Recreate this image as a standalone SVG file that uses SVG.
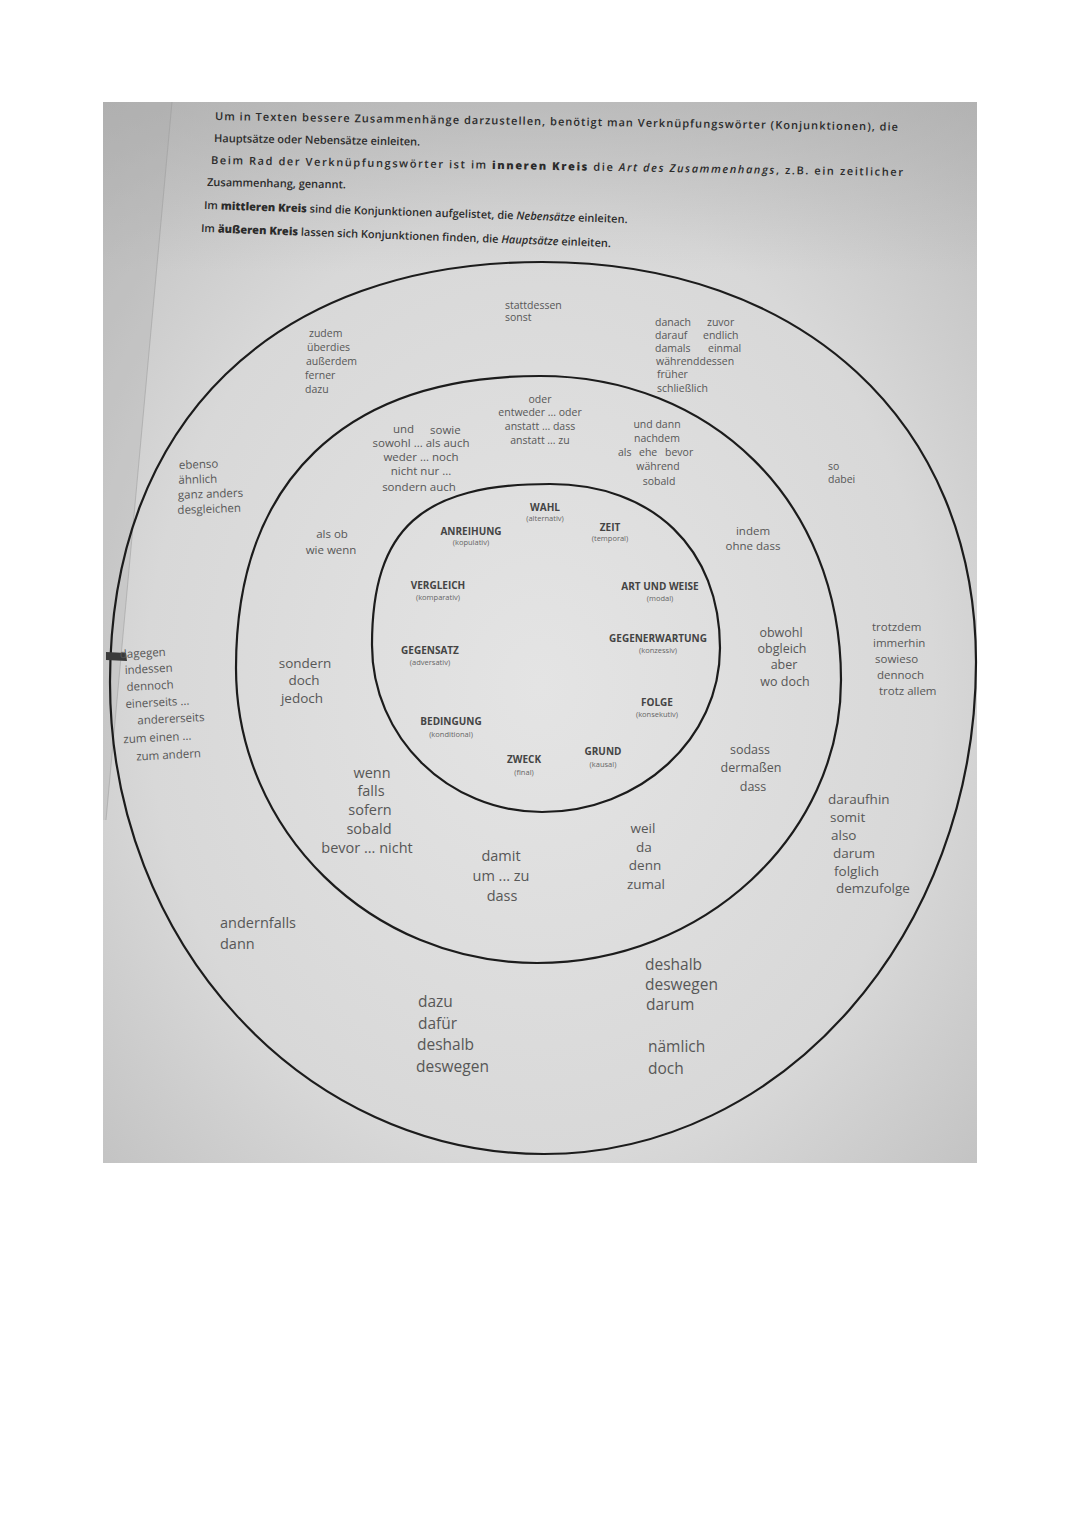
<svg xmlns="http://www.w3.org/2000/svg" width="1080" height="1527" viewBox="0 0 1080 1527">
<defs>
<radialGradient id="page" cx="0.5" cy="0.55" r="0.75">
<stop offset="0" stop-color="#e4e4e4"/>
<stop offset="0.6" stop-color="#d8d8d8"/>
<stop offset="1" stop-color="#bcbcbc"/>
</radialGradient>
<linearGradient id="topshade" x1="0" y1="0" x2="0" y2="1">
<stop offset="0" stop-color="#a8a8a8" stop-opacity="0.5"/>
<stop offset="1" stop-color="#a8a8a8" stop-opacity="0"/>
</linearGradient>
</defs>
<style>
.ring{fill:none;stroke:#1c1c1c;stroke-width:2.2}
.hd{font-family:"Open Sans","Noto Sans",sans-serif;font-size:11px;font-weight:600;fill:#2b2b2b}
.b{font-weight:800}
.i{font-style:italic}
.w{font-family:"Open Sans","Noto Sans",sans-serif;fill:#575757}
.s11{font-size:10.5px}
.s12{font-size:11.5px}
.s13{font-size:12.5px}
.s14{font-size:13.5px}
.s15{font-size:14.5px}
.s16{font-size:15.5px}
.c{text-anchor:middle}
.lab{font-family:"Open Sans","Noto Sans",sans-serif;font-size:10px;font-weight:700;fill:#444;text-anchor:middle}
.sub{font-family:"Open Sans","Noto Sans",sans-serif;font-size:7.5px;fill:#666;text-anchor:middle}
</style>
<rect x="0" y="0" width="1080" height="1527" fill="#ffffff"/>
<rect x="103" y="102" width="874" height="1061" fill="url(#page)"/>
<rect x="103" y="102" width="874" height="170" fill="url(#topshade)"/>
<g id="page-edge">
<polygon points="103,102 172,102 106,820 103,820" fill="#a9a9a9" opacity="0.28"/>
<line x1="172" y1="102" x2="106" y2="820" stroke="#9a9a9a" stroke-width="1" opacity="0.5"/>
</g>

<g id="header">
<text class="hd" x="215" y="120" transform="rotate(0.9 215 120)" textLength="683" lengthAdjust="spacing">Um in Texten bessere Zusammenhänge darzustellen, benötigt man Verknüpfungswörter (Konjunktionen), die</text>
<text class="hd" x="214" y="142" transform="rotate(1 214 142)">Hauptsätze oder Nebensätze einleiten.</text>
<text class="hd" x="211" y="164" transform="rotate(1 211 164)" textLength="692" lengthAdjust="spacing">Beim Rad der Verknüpfungswörter ist im <tspan class="b">inneren Kreis</tspan> die <tspan class="i">Art des Zusammenhangs</tspan>, z.B. ein zeitlicher</text>
<text class="hd" x="207" y="186" transform="rotate(1 207 186)">Zusammenhang, genannt.</text>
<text class="hd" x="204" y="209" transform="rotate(1.9 204 209)">Im <tspan class="b">mittleren Kreis</tspan> sind die Konjunktionen aufgelistet, die <tspan class="i">Nebensätze</tspan> einleiten.</text>
<text class="hd" x="201" y="232" transform="rotate(2.1 201 232)">Im <tspan class="b">äußeren Kreis</tspan> lassen sich Konjunktionen finden, die <tspan class="i">Hauptsätze</tspan> einleiten.</text>
</g>

<g id="rings">
<path id="outer-ring" class="ring" d="M542 262 C274 262 110 422 110 682 C110 943 304 1154 544 1154 C782 1154 976 934 976 662 C976 422 802 262 542 262 Z"/>
<path id="middle-ring" class="ring" d="M540 376 C345 376 236 481 236 668 C236 831 371 963 537 963 C703 963 841 836 841 680 C841 499 709 376 540 376 Z"/>
<path id="inner-ring" class="ring" d="M550 484 C422 484 372 528 372 645 C372 737 448 812 542 812 C640 812 720 739 720 648 C720 549 653 484 550 484 Z"/>
</g>

<g id="clip-mark">
<path d="M106 652 L126 653 L127 661 L106 660 Z" fill="#3a3a3a"/>
</g>

<g id="inner-labels">
<g id="wahl"><text class="lab" x="545" y="511">WAHL</text><text class="sub" x="545" y="521">(alternativ)</text></g>
<g id="anreihung"><text class="lab" x="471" y="535">ANREIHUNG</text><text class="sub" x="471" y="545">(kopulativ)</text></g>
<g id="zeit"><text class="lab" x="610" y="531">ZEIT</text><text class="sub" x="610" y="541">(temporal)</text></g>
<g id="vergleich"><text class="lab" x="438" y="589">VERGLEICH</text><text class="sub" x="438" y="600">(komparativ)</text></g>
<g id="art-und-weise"><text class="lab" x="660" y="590">ART UND WEISE</text><text class="sub" x="660" y="601">(modal)</text></g>
<g id="gegensatz"><text class="lab" x="430" y="654">GEGENSATZ</text><text class="sub" x="430" y="665">(adversativ)</text></g>
<g id="gegenerwartung"><text class="lab" x="658" y="642">GEGENERWARTUNG</text><text class="sub" x="658" y="653">(konzessiv)</text></g>
<g id="folge"><text class="lab" x="657" y="706">FOLGE</text><text class="sub" x="657" y="717">(konsekutiv)</text></g>
<g id="bedingung"><text class="lab" x="451" y="725">BEDINGUNG</text><text class="sub" x="451" y="737">(konditional)</text></g>
<g id="zweck"><text class="lab" x="524" y="763">ZWECK</text><text class="sub" x="524" y="775">(final)</text></g>
<g id="grund"><text class="lab" x="603" y="755">GRUND</text><text class="sub" x="603" y="767">(kausal)</text></g>
</g>

<g id="middle-words">
<g id="m-wahl" class="w s11 c"><text x="540" y="403">oder</text><text x="540" y="416">entweder ... oder</text><text x="540" y="430">anstatt ... dass</text><text x="540" y="444">anstatt ... zu</text></g>
<g id="m-anreihung" class="w s12"><text x="393" y="433">und</text><text x="430" y="434">sowie</text><text class="c" x="421" y="447">sowohl ... als auch</text><text class="c" x="421" y="461">weder ... noch</text><text class="c" x="421" y="475">nicht nur ...</text><text class="c" x="419" y="491">sondern auch</text></g>
<g id="m-zeit" class="w s11"><text class="c" x="657" y="428">und dann</text><text class="c" x="657" y="442">nachdem</text><text x="618" y="456">als</text><text x="639" y="456">ehe</text><text x="665" y="456">bevor</text><text class="c" x="658" y="470">während</text><text class="c" x="659" y="485">sobald</text></g>
<g id="m-vergleich" class="w s12 c"><text x="332" y="538">als ob</text><text x="331" y="554">wie wenn</text></g>
<g id="m-modal" class="w s12 c"><text x="753" y="535">indem</text><text x="753" y="550">ohne dass</text></g>
<g id="m-gegensatz" class="w s14 c"><text x="305" y="668">sondern</text><text x="304" y="685">doch</text><text x="302" y="703">jedoch</text></g>
<g id="m-konzessiv" class="w s13 c"><text x="781" y="637">obwohl</text><text x="782" y="653">obgleich</text><text x="784" y="669">aber</text><text x="785" y="686">wo doch</text></g>
<g id="m-folge" class="w s13 c"><text x="750" y="754">sodass</text><text x="751" y="772">dermaßen</text><text x="753" y="791">dass</text></g>
<g id="m-bedingung" class="w s15 c"><text x="372" y="778">wenn</text><text x="371" y="796">falls</text><text x="370" y="815">sofern</text><text x="369" y="834">sobald</text><text x="367" y="853">bevor ... nicht</text></g>
<g id="m-zweck" class="w s15 c"><text x="501" y="861">damit</text><text x="501" y="881">um ... zu</text><text x="502" y="901">dass</text></g>
<g id="m-grund" class="w s14 c"><text x="643" y="833">weil</text><text x="644" y="852">da</text><text x="645" y="870">denn</text><text x="646" y="889">zumal</text></g>
</g>

<g id="outer-words">
<g id="o-wahl" class="w s11"><text x="505" y="309">stattdessen</text><text x="505" y="321">sonst</text></g>
<g id="o-anreihung" class="w s11"><text x="309" y="337">zudem</text><text x="307" y="351">überdies</text><text x="306" y="365">außerdem</text><text x="305" y="379">ferner</text><text x="305" y="393">dazu</text></g>
<g id="o-zeit" class="w s11"><text x="655" y="326">danach</text><text x="707" y="326">zuvor</text><text x="655" y="339">darauf</text><text x="703" y="339">endlich</text><text x="655" y="352">damals</text><text x="708" y="352">einmal</text><text x="656" y="365">währenddessen</text><text x="657" y="378">früher</text><text x="657" y="392">schließlich</text></g>
<g id="o-vergleich" class="w s12" transform="rotate(-2 178 468)"><text x="179" y="469">ebenso</text><text x="178" y="484">ähnlich</text><text x="177" y="499">ganz anders</text><text x="176" y="514">desgleichen</text></g>
<g id="o-modal" class="w s11"><text x="828" y="470">so</text><text x="828" y="483">dabei</text></g>
<g id="o-gegensatz" class="w s12" transform="rotate(-3 125 657)"><text x="120" y="658">dagegen</text><text x="124" y="674">indessen</text><text x="125" y="691">dennoch</text><text x="123" y="708">einerseits ...</text><text x="134" y="725">andererseits</text><text x="119" y="743">zum einen ...</text><text x="131" y="761">zum andern</text></g>
<g id="o-konzessiv" class="w s12"><text x="872" y="631">trotzdem</text><text x="873" y="647">immerhin</text><text x="875" y="663">sowieso</text><text x="877" y="679">dennoch</text><text x="879" y="695">trotz allem</text></g>
<g id="o-folge" class="w s14"><text x="828" y="804">daraufhin</text><text x="830" y="822">somit</text><text x="831" y="840">also</text><text x="833" y="858">darum</text><text x="834" y="876">folglich</text><text x="836" y="893">demzufolge</text></g>
<g id="o-bedingung" class="w s15"><text x="220" y="928">andernfalls</text><text x="220" y="949">dann</text></g>
<g id="o-zweck" class="w s16"><text x="418" y="1007">dazu</text><text x="418" y="1029">dafür</text><text x="417" y="1050">deshalb</text><text x="416" y="1072">deswegen</text></g>
<g id="o-grund" class="w s16"><text x="645" y="970">deshalb</text><text x="645" y="990">deswegen</text><text x="646" y="1010">darum</text><text x="648" y="1052">nämlich</text><text x="648" y="1074">doch</text></g>
</g>
</svg>
